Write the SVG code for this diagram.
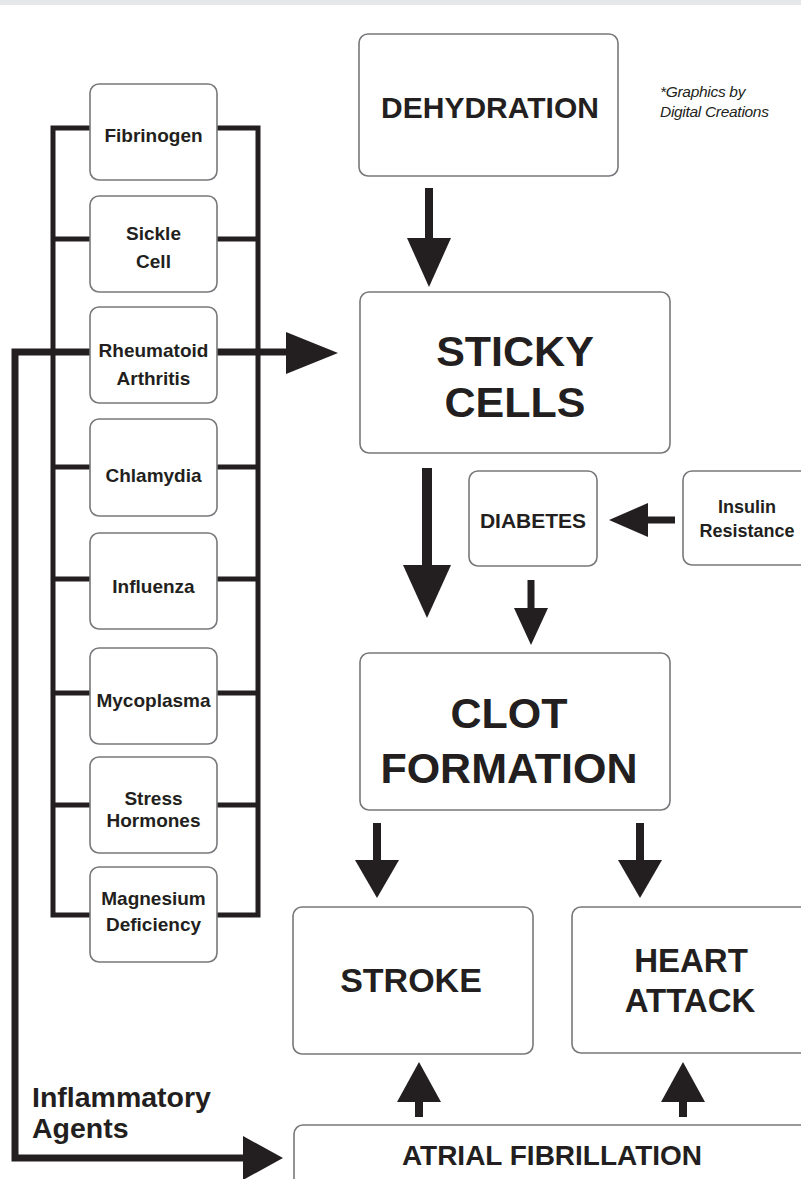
<svg xmlns="http://www.w3.org/2000/svg" width="801" height="1179" viewBox="0 0 801 1179">
<style>
.box{fill:#ffffff;stroke:#77787b;stroke-width:1.6}
.t{font-family:"Liberation Sans",Arial,sans-serif;font-weight:bold;fill:#231f20;text-anchor:middle}
.s{font-size:19px}
.ln{fill:none;stroke:#231f20;stroke-linecap:butt;stroke-linejoin:miter}
.hd{fill:#231f20}
</style>
<rect x="0" y="0" width="801" height="5" fill="#e6e7e9"/>
<g id="connectors">
  <!-- bracket -->
  <path class="ln" stroke-width="5" d="M90,128 H53 V915 H90 M217,128 H258 V915 H217"/>
  <path class="ln" stroke-width="5" d="M53,239 H258 M53,467 H258 M53,579 H258 M53,693 H258 M53,805 H258"/>
  <!-- rheumatoid to sticky -->
  <path class="ln" stroke-width="7" d="M90,352 H290"/>
  <polygon class="hd" points="286,332 286,374 338,353"/>
  <!-- inflammatory agents to atrial fibrillation -->
  <path class="ln" stroke-width="7" d="M90,352 H15 V1158 H246"/>
  <polygon class="hd" points="243,1136 243,1180 283,1158"/>
  <!-- dehydration to sticky -->
  <rect class="hd" x="425" y="188" width="8" height="52"/>
  <polygon class="hd" points="407,238 451,238 429,287"/>
  <!-- sticky to clot -->
  <rect class="hd" x="422" y="468" width="10" height="99"/>
  <polygon class="hd" points="403,565 451,565 427,618"/>
  <!-- insulin to diabetes -->
  <rect class="hd" x="646" y="516.5" width="29" height="7"/>
  <polygon class="hd" points="648,503 648,537 609,520"/>
  <!-- diabetes to clot -->
  <rect class="hd" x="527.5" y="580" width="7" height="30"/>
  <polygon class="hd" points="514,608 548,608 531,645"/>
  <!-- clot to stroke / heart -->
  <rect class="hd" x="373" y="823" width="8" height="39"/>
  <polygon class="hd" points="355,860 399,860 377,898"/>
  <rect class="hd" x="636" y="823" width="8" height="39"/>
  <polygon class="hd" points="618,860 662,860 640,898"/>
  <!-- atrial fibrillation to stroke / heart -->
  <rect class="hd" x="415" y="1100" width="8" height="17"/>
  <polygon class="hd" points="397,1102 441,1102 419,1062"/>
  <rect class="hd" x="679" y="1100" width="8" height="17"/>
  <polygon class="hd" points="661,1102 705,1102 683,1062"/>
</g>
<g id="fibrinogen"><rect class="box" x="90" y="84" width="127" height="96" rx="9"/><text class="t s" x="153.5" y="142">Fibrinogen</text></g>
<g id="sickle-cell"><rect class="box" x="90" y="196" width="127" height="96" rx="9"/><text class="t s" x="153.5" y="240">Sickle</text><text class="t s" x="153.5" y="268">Cell</text></g>
<g id="rheumatoid"><rect class="box" x="90" y="307" width="127" height="96" rx="9"/><text class="t s" x="153.5" y="357">Rheumatoid</text><text class="t s" x="153.5" y="385">Arthritis</text></g>
<g id="chlamydia"><rect class="box" x="90" y="419" width="127" height="97" rx="9"/><text class="t s" x="153.5" y="482">Chlamydia</text></g>
<g id="influenza"><rect class="box" x="90" y="533" width="127" height="96" rx="9"/><text class="t s" x="153.5" y="593">Influenza</text></g>
<g id="mycoplasma"><rect class="box" x="90" y="648" width="127" height="96" rx="9"/><text class="t s" x="153.5" y="707">Mycoplasma</text></g>
<g id="stress"><rect class="box" x="90" y="757" width="127" height="96" rx="9"/><text class="t s" x="153.5" y="805">Stress</text><text class="t s" x="153.5" y="827">Hormones</text></g>
<g id="magnesium"><rect class="box" x="90" y="867" width="127" height="95" rx="9"/><text class="t s" x="153.5" y="905">Magnesium</text><text class="t s" x="153.5" y="931">Deficiency</text></g>
<g id="dehydration"><rect class="box" x="359" y="34" width="259" height="142" rx="9"/><text class="t" x="490" y="118" font-size="30">DEHYDRATION</text></g>
<g id="credit"><text font-family="'Liberation Sans',Arial,sans-serif" font-style="italic" font-size="15.5" fill="#231f20" letter-spacing="-0.3"><tspan x="660" y="97">*Graphics by</tspan><tspan x="660" y="117">Digital Creations</tspan></text></g>
<g id="sticky-cells"><rect class="box" x="360" y="292" width="310" height="161" rx="9"/><text class="t" x="515" y="366" font-size="43">STICKY</text><text class="t" x="515" y="417" font-size="43">CELLS</text></g>
<g id="diabetes"><rect class="box" x="469" y="471" width="128" height="95" rx="9"/><text class="t" x="533" y="528" font-size="21">DIABETES</text></g>
<g id="insulin"><rect class="box" x="683" y="471" width="130" height="94" rx="9"/><text class="t" x="747" y="513" font-size="18">Insulin</text><text class="t" x="747" y="537" font-size="18">Resistance</text></g>
<g id="clot-formation"><rect class="box" x="360" y="653" width="310" height="157" rx="9"/><text class="t" x="509" y="728" font-size="43">CLOT</text><text class="t" x="509" y="783" font-size="43">FORMATION</text></g>
<g id="stroke"><rect class="box" x="293" y="907" width="240" height="147" rx="9"/><text class="t" x="411" y="992" font-size="34">STROKE</text></g>
<g id="heart-attack"><rect class="box" x="572" y="907" width="245" height="146" rx="9"/><text class="t" x="691" y="972" font-size="33">HEART</text><text class="t" x="690" y="1012" font-size="33">ATTACK</text></g>
<g id="atrial-fibrillation"><rect class="box" x="294" y="1125" width="520" height="70" rx="9"/><text class="t" x="552" y="1165" font-size="28">ATRIAL FIBRILLATION</text></g>
<g id="inflammatory-label"><text font-family="'Liberation Sans',Arial,sans-serif" font-weight="bold" font-size="28.5" fill="#231f20"><tspan x="32" y="1107">Inflammatory</tspan><tspan x="32" y="1138">Agents</tspan></text></g>
</svg>
